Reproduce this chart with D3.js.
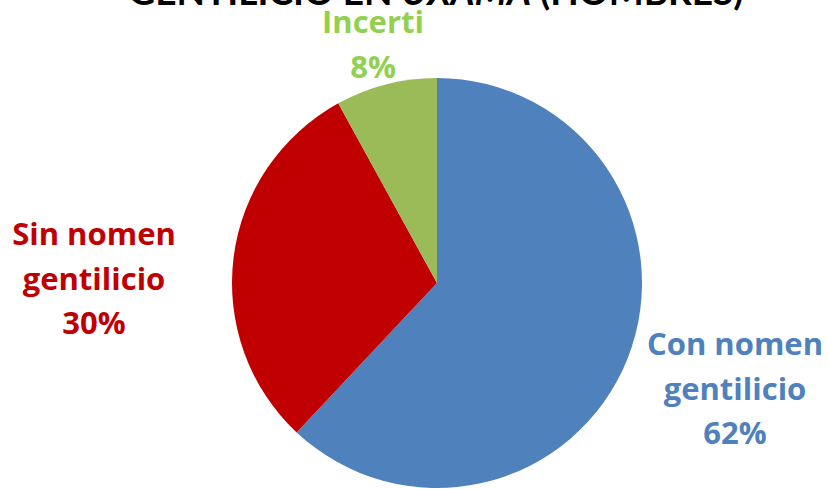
<!DOCTYPE html>
<html><head><meta charset="utf-8">
<script src="https://cdn.jsdelivr.net/npm/d3@7"></script>
<style>body{margin:0;background:#fff}</style>
</head><body>
<svg id="c" width="828" height="489"></svg>
<script>
const categories = ["Con nomen gentilicio", "Sin nomen gentilicio", "Incerti"];
const values = [62, 30, 8];
const labelLines = [["Con nomen","gentilicio","62%"],["Sin nomen","gentilicio","30%"],["Incerti","8%"]];
const sliceColors = ["#4F81BD", "#C00000", "#9BBB59"];
const textColors = ["#4F81BD", "#C00000", "#92D050"];

const svg = d3.select("#c");
const font = "Lato, 'Open Sans', sans-serif";
const lfont = "'Open Sans', Lato, sans-serif";
const cx = 437, cy = 283, r = 205;

// title (clipped at top)
const t = svg.append("text").attr("x", 436).attr("y", 5).attr("text-anchor","middle")
  .attr("font-family", font).attr("font-weight","bold").attr("font-size", 37).attr("fill","#000");
t.append("tspan").text("GENTILICIO EN ");
t.append("tspan").attr("font-style","italic").text("UXAMA");
t.append("tspan").text(" (HOMBRES)");

const pie = d3.pie().sort(null).value(d => d)(values);
const arc = d3.arc().innerRadius(0).outerRadius(r);
const g = svg.append("g").attr("transform", `translate(${cx},${cy})`);
g.selectAll("path").data(pie).join("path").attr("d", arc).attr("fill", (d,i) => sliceColors[i]);

const labelPos = [[735, 355], [94, 245], [373, 33]];
const lh = 44.5;
labelLines.forEach((lines, i) => {
  const tx = svg.append("text").attr("text-anchor","middle").attr("font-family", lfont)
    .attr("font-weight","bold").attr("font-size", 31).attr("fill", textColors[i]);
  lines.forEach((ln, j) => {
    tx.append("tspan").attr("x", labelPos[i][0]).attr("y", labelPos[i][1] + j*lh).text(ln);
  });
});
</script>
</body></html>
